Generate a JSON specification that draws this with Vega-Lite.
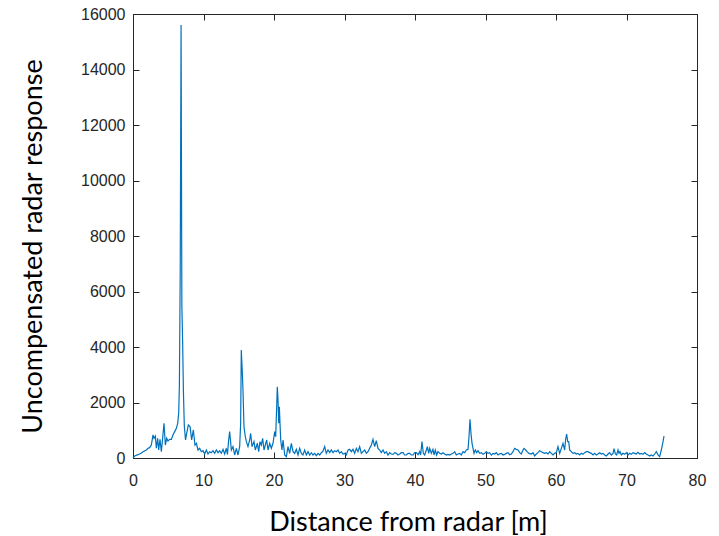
{
  "$schema": "https://vega.github.io/schema/vega-lite/v6.json",
  "width": 564,
  "height": 444,
  "autosize": "none",
  "padding": {"left": 133, "top": 14, "right": 22, "bottom": 78},
  "background": "white",
  "config": {
    "view": {"stroke": "#262626", "strokeWidth": 1},
    "axis": {
      "grid": false,
      "domainColor": "#262626",
      "tickColor": "#262626",
      "tickSize": -6,
      "labelFlush": false,
      "labelColor": "#262626",
      "labelFont": "Liberation Sans",
      "labelFontSize": 16,
      "titleFont": "Lato",
      "titleFontWeight": "normal",
      "titleFontSize": 27,
      "titleColor": "#000000"
    }
  },
  "data": {
    "values": [
      {"d": 0, "r": 0}, {"d": 0.24, "r": 70}, {"d": 0.71, "r": 120}, {"d": 1.2, "r": 180},
      {"d": 1.42, "r": 227}, {"d": 1.89, "r": 290}, {"d": 2.13, "r": 350}, {"d": 2.36, "r": 372},
      {"d": 2.6, "r": 468}, {"d": 2.84, "r": 830}, {"d": 2.98, "r": 710}, {"d": 3.17, "r": 790},
      {"d": 3.31, "r": 350}, {"d": 3.5, "r": 710}, {"d": 3.64, "r": 288}, {"d": 3.83, "r": 670},
      {"d": 4.02, "r": 227}, {"d": 4.16, "r": 590}, {"d": 4.4, "r": 1250}, {"d": 4.59, "r": 468},
      {"d": 4.78, "r": 710}, {"d": 4.96, "r": 610}, {"d": 5.2, "r": 670}, {"d": 5.44, "r": 670},
      {"d": 5.67, "r": 830}, {"d": 5.91, "r": 950}, {"d": 6.15, "r": 1070}, {"d": 6.34, "r": 1250},
      {"d": 6.48, "r": 1610}, {"d": 6.58, "r": 2600}, {"d": 6.7, "r": 6800}, {"d": 6.82, "r": 15600},
      {"d": 6.93, "r": 5500}, {"d": 7.04, "r": 4200}, {"d": 7.15, "r": 2400}, {"d": 7.28, "r": 1150},
      {"d": 7.45, "r": 650}, {"d": 7.62, "r": 900}, {"d": 7.85, "r": 1190}, {"d": 8.09, "r": 1130},
      {"d": 8.32, "r": 650}, {"d": 8.56, "r": 1010}, {"d": 8.79, "r": 468}, {"d": 8.99, "r": 530},
      {"d": 9.22, "r": 288}, {"d": 9.46, "r": 350}, {"d": 9.69, "r": 227}, {"d": 9.93, "r": 263},
      {"d": 10.17, "r": 144}, {"d": 10.4, "r": 288}, {"d": 10.64, "r": 144}, {"d": 10.87, "r": 227},
      {"d": 11.11, "r": 192}, {"d": 11.35, "r": 263}, {"d": 11.58, "r": 168}, {"d": 11.82, "r": 288},
      {"d": 12.06, "r": 192}, {"d": 12.29, "r": 263}, {"d": 12.53, "r": 168}, {"d": 12.77, "r": 312},
      {"d": 13.0, "r": 144}, {"d": 13.24, "r": 350}, {"d": 13.4, "r": 130}, {"d": 13.55, "r": 600},
      {"d": 13.71, "r": 950}, {"d": 13.95, "r": 288}, {"d": 14.18, "r": 410}, {"d": 14.42, "r": 108},
      {"d": 14.66, "r": 350}, {"d": 14.89, "r": 108}, {"d": 15.13, "r": 410}, {"d": 15.27, "r": 1250},
      {"d": 15.36, "r": 3890}, {"d": 15.51, "r": 3050}, {"d": 15.6, "r": 2450}, {"d": 15.74, "r": 1130},
      {"d": 15.93, "r": 770}, {"d": 16.08, "r": 590}, {"d": 16.31, "r": 410}, {"d": 16.55, "r": 650},
      {"d": 16.69, "r": 890}, {"d": 16.88, "r": 410}, {"d": 17.16, "r": 590}, {"d": 17.35, "r": 288},
      {"d": 17.64, "r": 530}, {"d": 17.83, "r": 227}, {"d": 18.01, "r": 590}, {"d": 18.2, "r": 468},
      {"d": 18.39, "r": 710}, {"d": 18.58, "r": 288}, {"d": 18.77, "r": 468}, {"d": 18.96, "r": 650},
      {"d": 19.15, "r": 288}, {"d": 19.39, "r": 530}, {"d": 19.62, "r": 350}, {"d": 19.86, "r": 530},
      {"d": 20.1, "r": 950}, {"d": 20.24, "r": 770}, {"d": 20.38, "r": 1850}, {"d": 20.47, "r": 2570},
      {"d": 20.57, "r": 2090}, {"d": 20.67, "r": 1250}, {"d": 20.76, "r": 1850}, {"d": 20.85, "r": 1250},
      {"d": 20.95, "r": 650}, {"d": 21.13, "r": 288}, {"d": 21.28, "r": 650}, {"d": 21.52, "r": 108},
      {"d": 21.75, "r": 48}, {"d": 21.99, "r": 410}, {"d": 22.22, "r": 168}, {"d": 22.46, "r": 530},
      {"d": 22.7, "r": 227}, {"d": 22.93, "r": 168}, {"d": 23.17, "r": 310}, {"d": 23.4, "r": 108},
      {"d": 23.64, "r": 350}, {"d": 23.88, "r": 168}, {"d": 24.11, "r": 108}, {"d": 24.35, "r": 288},
      {"d": 24.59, "r": 108}, {"d": 24.82, "r": 227}, {"d": 25.06, "r": 108}, {"d": 25.3, "r": 190},
      {"d": 25.53, "r": 108}, {"d": 25.77, "r": 168}, {"d": 26.0, "r": 84}, {"d": 26.24, "r": 168},
      {"d": 26.48, "r": 108}, {"d": 26.71, "r": 190}, {"d": 26.95, "r": 250}, {"d": 27.19, "r": 410},
      {"d": 27.42, "r": 168}, {"d": 27.66, "r": 288}, {"d": 27.9, "r": 192}, {"d": 28.13, "r": 288},
      {"d": 28.37, "r": 192}, {"d": 28.6, "r": 264}, {"d": 28.84, "r": 228}, {"d": 29.08, "r": 288},
      {"d": 29.31, "r": 168}, {"d": 29.55, "r": 228}, {"d": 29.79, "r": 144}, {"d": 30.02, "r": 168},
      {"d": 30.26, "r": 108}, {"d": 30.5, "r": 288}, {"d": 30.73, "r": 312}, {"d": 30.97, "r": 228},
      {"d": 31.21, "r": 312}, {"d": 31.44, "r": 168}, {"d": 31.68, "r": 348}, {"d": 31.91, "r": 228},
      {"d": 32.15, "r": 408}, {"d": 32.39, "r": 168}, {"d": 32.62, "r": 228}, {"d": 32.86, "r": 288},
      {"d": 33.1, "r": 168}, {"d": 33.33, "r": 228}, {"d": 33.57, "r": 348}, {"d": 33.81, "r": 468},
      {"d": 34.04, "r": 672}, {"d": 34.28, "r": 408}, {"d": 34.51, "r": 624}, {"d": 34.75, "r": 348},
      {"d": 34.99, "r": 288}, {"d": 35.22, "r": 192}, {"d": 35.46, "r": 288}, {"d": 35.7, "r": 168},
      {"d": 35.93, "r": 228}, {"d": 36.17, "r": 108}, {"d": 36.41, "r": 192}, {"d": 36.64, "r": 144},
      {"d": 36.88, "r": 132}, {"d": 37.12, "r": 192}, {"d": 37.35, "r": 168}, {"d": 37.59, "r": 108},
      {"d": 37.83, "r": 144}, {"d": 38.06, "r": 192}, {"d": 38.3, "r": 192}, {"d": 38.53, "r": 108},
      {"d": 38.77, "r": 108}, {"d": 39.01, "r": 168}, {"d": 39.24, "r": 168}, {"d": 39.48, "r": 108},
      {"d": 39.72, "r": 108}, {"d": 39.95, "r": 192}, {"d": 40.19, "r": 192}, {"d": 40.43, "r": 120},
      {"d": 40.66, "r": 228}, {"d": 40.8, "r": 108}, {"d": 40.99, "r": 588}, {"d": 41.18, "r": 168},
      {"d": 41.37, "r": 108}, {"d": 41.61, "r": 288}, {"d": 41.75, "r": 408}, {"d": 41.94, "r": 168},
      {"d": 42.08, "r": 348}, {"d": 42.32, "r": 168}, {"d": 42.55, "r": 312}, {"d": 42.7, "r": 108},
      {"d": 42.88, "r": 288}, {"d": 43.07, "r": 108}, {"d": 43.26, "r": 228}, {"d": 43.5, "r": 168},
      {"d": 43.74, "r": 144}, {"d": 43.97, "r": 192}, {"d": 44.21, "r": 144}, {"d": 44.45, "r": 108},
      {"d": 44.68, "r": 132}, {"d": 44.92, "r": 108}, {"d": 45.16, "r": 144}, {"d": 45.39, "r": 168},
      {"d": 45.63, "r": 228}, {"d": 45.86, "r": 108}, {"d": 46.1, "r": 144}, {"d": 46.34, "r": 168},
      {"d": 46.57, "r": 108}, {"d": 46.81, "r": 228}, {"d": 47.05, "r": 192}, {"d": 47.28, "r": 288},
      {"d": 47.52, "r": 312}, {"d": 47.66, "r": 768}, {"d": 47.8, "r": 1394}, {"d": 47.94, "r": 888},
      {"d": 48.09, "r": 528}, {"d": 48.23, "r": 348}, {"d": 48.37, "r": 168}, {"d": 48.56, "r": 288},
      {"d": 48.75, "r": 192}, {"d": 48.94, "r": 264}, {"d": 49.17, "r": 168}, {"d": 49.41, "r": 192},
      {"d": 49.65, "r": 132}, {"d": 49.88, "r": 168}, {"d": 50.12, "r": 228}, {"d": 50.35, "r": 168},
      {"d": 50.59, "r": 192}, {"d": 50.83, "r": 108}, {"d": 51.07, "r": 168}, {"d": 51.3, "r": 144},
      {"d": 51.54, "r": 192}, {"d": 51.77, "r": 108}, {"d": 52.01, "r": 150}, {"d": 52.25, "r": 168},
      {"d": 52.48, "r": 108}, {"d": 52.72, "r": 132}, {"d": 52.96, "r": 168}, {"d": 53.19, "r": 192},
      {"d": 53.43, "r": 120}, {"d": 53.66, "r": 144}, {"d": 53.9, "r": 228}, {"d": 54.14, "r": 348},
      {"d": 54.37, "r": 312}, {"d": 54.61, "r": 288}, {"d": 54.85, "r": 192}, {"d": 55.08, "r": 144},
      {"d": 55.32, "r": 288}, {"d": 55.46, "r": 348}, {"d": 55.7, "r": 288}, {"d": 55.89, "r": 228},
      {"d": 56.17, "r": 168}, {"d": 56.5, "r": 144}, {"d": 56.74, "r": 192}, {"d": 56.97, "r": 72},
      {"d": 57.21, "r": 144}, {"d": 57.45, "r": 192}, {"d": 57.68, "r": 264}, {"d": 57.92, "r": 228},
      {"d": 58.16, "r": 192}, {"d": 58.39, "r": 168}, {"d": 58.63, "r": 192}, {"d": 58.87, "r": 144},
      {"d": 59.1, "r": 228}, {"d": 59.34, "r": 168}, {"d": 59.57, "r": 108}, {"d": 59.81, "r": 168},
      {"d": 60.05, "r": 192}, {"d": 60.28, "r": 408}, {"d": 60.52, "r": 168}, {"d": 60.76, "r": 348},
      {"d": 60.99, "r": 528}, {"d": 61.23, "r": 288}, {"d": 61.37, "r": 672}, {"d": 61.51, "r": 864},
      {"d": 61.66, "r": 588}, {"d": 61.8, "r": 588}, {"d": 61.94, "r": 288}, {"d": 62.17, "r": 228},
      {"d": 62.41, "r": 168}, {"d": 62.65, "r": 192}, {"d": 62.88, "r": 144}, {"d": 63.12, "r": 168},
      {"d": 63.36, "r": 108}, {"d": 63.59, "r": 168}, {"d": 63.83, "r": 132}, {"d": 64.07, "r": 192},
      {"d": 64.3, "r": 228}, {"d": 64.54, "r": 228}, {"d": 64.77, "r": 192}, {"d": 65.01, "r": 168},
      {"d": 65.25, "r": 108}, {"d": 65.48, "r": 168}, {"d": 65.72, "r": 108}, {"d": 65.96, "r": 144},
      {"d": 66.19, "r": 192}, {"d": 66.43, "r": 144}, {"d": 66.67, "r": 168}, {"d": 66.9, "r": 108},
      {"d": 67.14, "r": 72}, {"d": 67.38, "r": 144}, {"d": 67.61, "r": 192}, {"d": 67.85, "r": 108},
      {"d": 68.09, "r": 168}, {"d": 68.23, "r": 340}, {"d": 68.42, "r": 144}, {"d": 68.6, "r": 108},
      {"d": 68.8, "r": 288}, {"d": 68.94, "r": 168}, {"d": 69.08, "r": 228}, {"d": 69.27, "r": 108},
      {"d": 69.5, "r": 168}, {"d": 69.74, "r": 132}, {"d": 69.98, "r": 192}, {"d": 70.21, "r": 108},
      {"d": 70.45, "r": 168}, {"d": 70.69, "r": 132}, {"d": 70.92, "r": 192}, {"d": 71.16, "r": 168},
      {"d": 71.39, "r": 144}, {"d": 71.63, "r": 204}, {"d": 71.87, "r": 144}, {"d": 72.1, "r": 168},
      {"d": 72.34, "r": 132}, {"d": 72.58, "r": 192}, {"d": 72.81, "r": 144}, {"d": 73.05, "r": 108},
      {"d": 73.29, "r": 72}, {"d": 73.52, "r": 108}, {"d": 73.76, "r": 72}, {"d": 73.99, "r": 144},
      {"d": 74.23, "r": 228}, {"d": 74.47, "r": 108}, {"d": 74.7, "r": 48}, {"d": 74.94, "r": 288},
      {"d": 75.18, "r": 588}, {"d": 75.32, "r": 792}
    ]
  },
  "layer": [
    {
      "mark": {"type": "line", "color": "#0072BD", "strokeWidth": 1.2, "interpolate": "linear"},
      "encoding": {
        "x": {
          "field": "d", "type": "quantitative",
          "scale": {"domain": [0, 80], "nice": false, "zero": false},
          "axis": {
            "values": [0, 10, 20, 30, 40, 50, 60, 70, 80],
            "labelPadding": 20,
            "title": "Distance from radar [m]",
            "titleBaseline": "alphabetic",
            "titleX": 275,
            "titleY": 72,
            "titleAnchor": null
          }
        },
        "y": {
          "field": "r", "type": "quantitative",
          "scale": {"domain": [0, 16000], "nice": false, "zero": false},
          "axis": {
            "values": [0, 2000, 4000, 6000, 8000, 10000, 12000, 14000, 16000],
            "format": "d",
            "labelPadding": 14,
            "title": "Uncompensated radar response",
            "titleBaseline": "alphabetic",
            "titleAngle": -90,
            "titleX": -92,
            "titleY": 232,
            "titleAlign": "center"
          }
        }
      }
    },
    {
      "mark": {"type": "line", "strokeOpacity": 0},
      "encoding": {
        "x": {
          "field": "d", "type": "quantitative",
          "scale": {"domain": [0, 80], "nice": false, "zero": false},
          "axis": {"orient": "top", "values": [0, 10, 20, 30, 40, 50, 60, 70, 80], "labels": false, "title": null}
        },
        "y": {
          "field": "r", "type": "quantitative",
          "scale": {"domain": [0, 16000], "nice": false, "zero": false},
          "axis": {"orient": "right", "values": [0, 2000, 4000, 6000, 8000, 10000, 12000, 14000, 16000], "labels": false, "title": null}
        }
      }
    }
  ],
  "resolve": {"axis": {"x": "independent", "y": "independent"}}
}
